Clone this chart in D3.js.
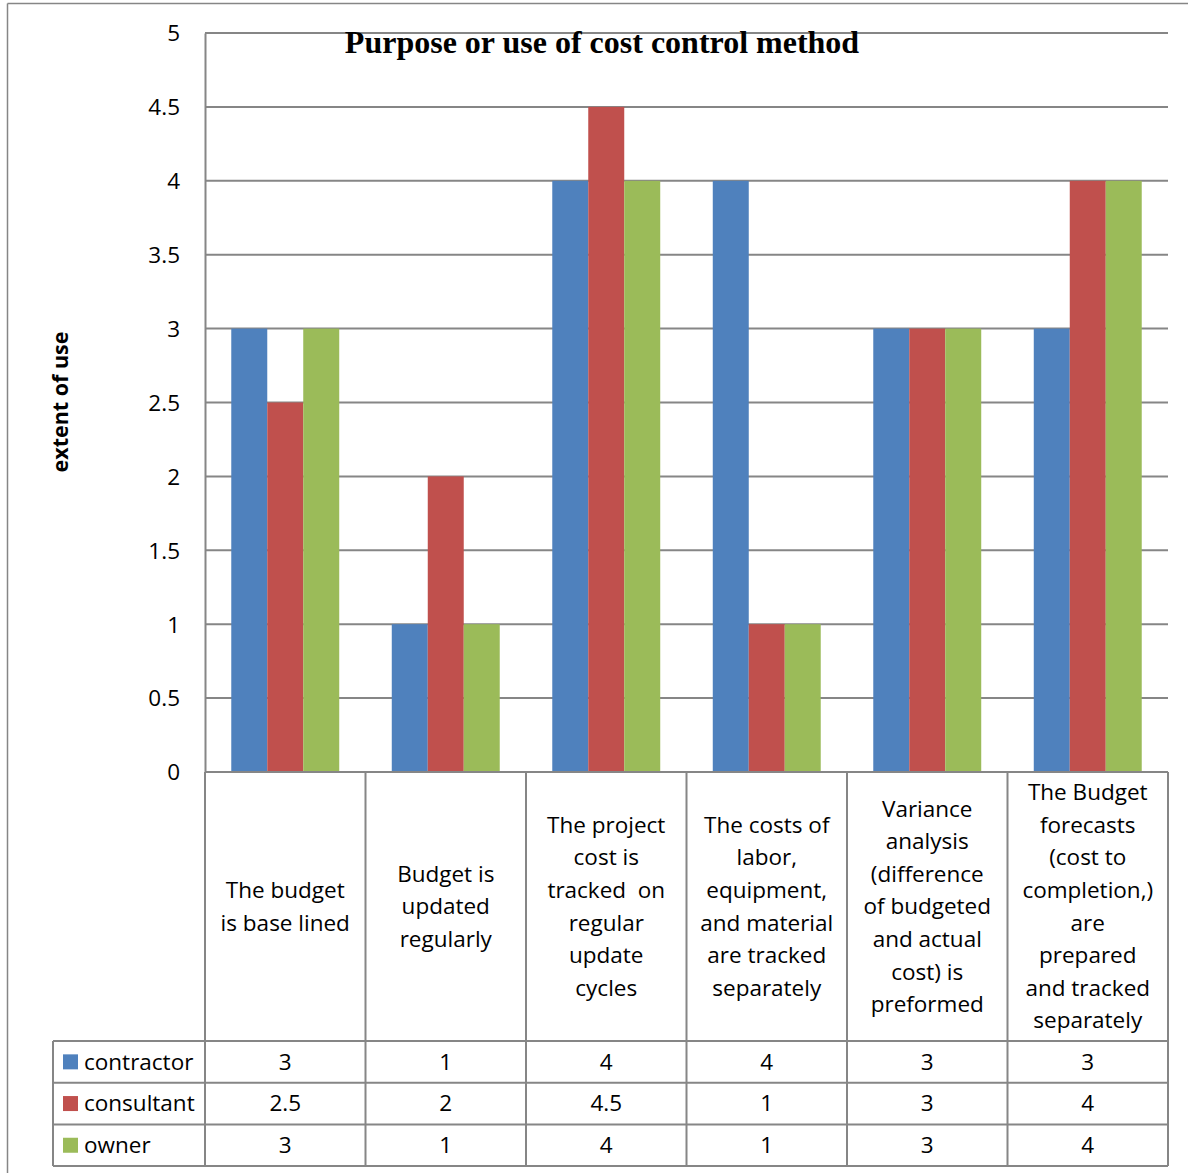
<!DOCTYPE html>
<html>
<head>
<meta charset="utf-8">
<script src="https://cdn.jsdelivr.net/npm/d3@7"></script>
<style>
  html, body { margin: 0; padding: 0; background: #fff; }
  svg { display: block; }
  .lbl { font-family: "Open Sans", "Noto Sans", sans-serif; fill: #000; }
</style>
</head>
<body>
<svg id="chart" width="1188" height="1173"></svg>
<script>
// Categories (multi-line labels as shown under each column)
const categories = [
  ["The budget", "is base lined"],
  ["Budget is", "updated", "regularly"],
  ["The project", "cost is", "tracked  on", "regular", "update", "cycles"],
  ["The costs of", "labor,", "equipment,", "and material", "are tracked", "separately"],
  ["Variance", "analysis", "(difference", "of budgeted", "and actual", "cost) is", "preformed"],
  ["The Budget", "forecasts", "(cost to", "completion,)", "are", "prepared", "and tracked", "separately"]
];
const seriesNames = ["contractor", "consultant", "owner"];
const contractor = [3, 1, 4, 4, 3, 3];
const consultant = [2.5, 2, 4.5, 1, 3, 4];
const owner = [3, 1, 4, 1, 3, 4];
const seriesColors = ["#4F81BD", "#C0504D", "#9BBB59"];
const yTicks = [0, 0.5, 1, 1.5, 2, 2.5, 3, 3.5, 4, 4.5, 5];
const titleText = "Purpose or use of cost control method";
const yTitle = "extent of use";

const values = [contractor, consultant, owner];
const catIdx = categories.map((d, i) => i);

const svg = d3.select("#chart");
const grid = "#868686";
const fs = "22.5px";

const plotL = 205, plotR = 1168, plotT = 33, plotB = 772;
const tableL = 53, labelB = 1041, rowH = 41.7;

const x = d3.scaleBand().domain(catIdx).range([plotL, plotR]).paddingInner(0).paddingOuter(0);
const xs = d3.scaleBand().domain(d3.range(seriesNames.length)).range([0, x.bandwidth()])
  .paddingInner(0).paddingOuter(0.73);
const y = d3.scaleLinear().domain([0, 5]).range([plotB, plotT]);

// outer frame (top and left edges)
svg.append("line").attr("x1", 7.5).attr("x2", 1188).attr("y1", 3.5).attr("y2", 3.5)
  .attr("stroke", grid).attr("stroke-width", 1.5);
svg.append("line").attr("x1", 7.5).attr("x2", 7.5).attr("y1", 3.5).attr("y2", 1173)
  .attr("stroke", grid).attr("stroke-width", 1.5);

// horizontal gridlines
svg.append("g").selectAll("line").data(yTicks.filter(t => t > 0)).join("line")
  .attr("x1", plotL).attr("x2", plotR)
  .attr("y1", d => y(d)).attr("y2", d => y(d))
  .attr("stroke", grid).attr("stroke-width", 2);

// title (drawn beneath the bars, over the grid)
svg.append("text")
  .attr("x", 602).attr("y", 53)
  .attr("text-anchor", "middle")
  .style("font-family", "'Times New Roman', 'Liberation Serif', serif")
  .style("font-weight", "bold")
  .style("font-size", "32px")
  .text(titleText);

// bars
const groups = svg.append("g").selectAll("g").data(catIdx).join("g")
  .attr("transform", d => `translate(${x(d)},0)`);
groups.selectAll("rect")
  .data(ci => values.map((s, si) => ({ si, v: s[ci] })))
  .join("rect")
  .attr("x", d => xs(d.si))
  .attr("width", xs.bandwidth())
  .attr("y", d => y(d.v))
  .attr("height", d => y(0) - y(d.v))
  .attr("fill", d => seriesColors[d.si]);

// y axis
const yAxis = d3.axisLeft(y).tickValues(yTicks).tickSize(0).tickPadding(25)
  .tickFormat(d => String(d));
const ya = svg.append("g").attr("transform", `translate(${plotL},0)`).call(yAxis);
ya.select(".domain").attr("stroke", grid).attr("stroke-width", 2);
ya.selectAll("text").attr("class", "lbl").style("font-size", fs).attr("dy", "0.35em");

// y axis title
svg.append("text")
  .attr("transform", "translate(60,402) rotate(-90)")
  .attr("text-anchor", "middle").attr("dy", "0.35em")
  .attr("class", "lbl")
  .style("font-weight", "bold").style("font-size", "21.5px")
  .text(yTitle);

// data table lines
const tl = svg.append("g").attr("stroke", grid).attr("stroke-width", 2);
tl.append("line").attr("x1", plotL).attr("x2", plotR).attr("y1", plotB).attr("y2", plotB);
const rowYs = d3.range(seriesNames.length + 1).map(i => labelB + i * rowH);
rowYs.forEach(ry => {
  tl.append("line").attr("x1", tableL).attr("x2", plotR).attr("y1", ry).attr("y2", ry);
});
const colXs = catIdx.map(i => x(i)).concat([plotR]);
colXs.forEach(cx => {
  tl.append("line").attr("x1", cx).attr("x2", cx).attr("y1", plotB).attr("y2", rowYs[rowYs.length - 1]);
});
tl.append("line").attr("x1", tableL).attr("x2", tableL).attr("y1", labelB).attr("y2", rowYs[rowYs.length - 1]);

// category labels, vertically centred in the label band
const lineH = 32.6;
const labelMid = (plotB + labelB) / 2;
catIdx.forEach(ci => {
  const lines = categories[ci];
  const cx = x(ci) + x.bandwidth() / 2;
  const y0 = labelMid - (lines.length - 1) * lineH / 2;
  const t = svg.append("text").attr("class", "lbl").attr("text-anchor", "middle")
    .style("font-size", fs).style("white-space", "pre");
  lines.forEach((ln, k) => {
    t.append("tspan").attr("x", cx).attr("y", y0 + k * lineH).attr("dy", "0.35em").text(ln);
  });
});

// table rows: legend key, series name, values
seriesNames.forEach((name, si) => {
  const ry = rowYs[si] + rowH / 2;
  svg.append("rect").attr("x", 63).attr("y", ry - 7.5).attr("width", 15).attr("height", 15)
    .attr("fill", seriesColors[si]);
  svg.append("text").attr("class", "lbl").attr("x", 84).attr("y", ry).attr("dy", "0.35em")
    .style("font-size", fs).text(name);
  values[si].forEach((v, ci) => {
    svg.append("text").attr("class", "lbl").attr("text-anchor", "middle")
      .attr("x", x(ci) + x.bandwidth() / 2).attr("y", ry).attr("dy", "0.35em")
      .style("font-size", fs).text(String(v));
  });
});
</script>
</body>
</html>
